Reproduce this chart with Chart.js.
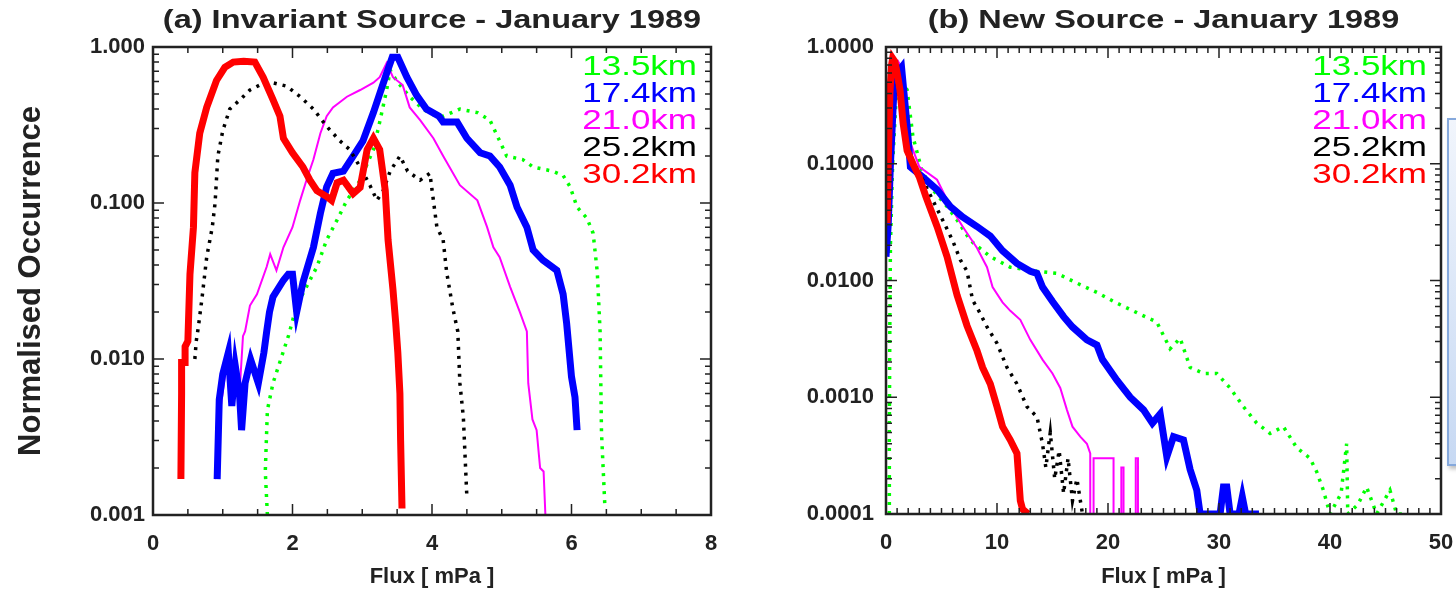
<!DOCTYPE html>
<html>
<head>
<meta charset="utf-8">
<script src="https://cdn.jsdelivr.net/npm/chart.js@4.4.1/dist/chart.umd.min.js"></script>
<style>
  body { margin: 0; background: #fff; width: 1456px; height: 600px; overflow: hidden; position: relative; }
  canvas { position: absolute; top: 0; }
  #chartA { left: 0; }
  #chartB { left: 728px; }
  .note { position: absolute; left: 1447px; top: 118px; width: 40px; height: 344px;
          border: 2px solid #86a9dc; background: linear-gradient(#f1f5fc, #c7d9f3);
          box-shadow: 2px 3px 4px rgba(0,0,0,0.25); }
</style>
</head>
<body>
<canvas id="chartA" width="728" height="600"></canvas>
<canvas id="chartB" width="728" height="600"></canvas>
<div class="note"></div>
<script>
// series names, in legend order
const heights = ['13.5km', '17.4km', '21.0km', '25.2km', '30.2km'];

// tick values / labels
const xTicksA = [0, 2, 4, 6, 8];
const xTicksB = [0, 10, 20, 30, 40, 50];
const yTicksA = [0.001, 0.01, 0.1, 1];
const yTickLabelsA = ['0.001', '0.010', '0.100', '1.000'];
const yTicksB = [0.0001, 0.001, 0.01, 0.1, 1];
const yTickLabelsB = ['0.0001', '0.0010', '0.0100', '0.1000', '1.0000'];

// (a) Invariant source: flux [mPa] and normalised occurrence per height
const fluxA135 = [1.64, 1.61, 1.64, 1.72, 1.83, 1.94, 2.06, 2.20, 2.35, 2.49, 2.64, 2.78, 2.97, 3.16, 3.25, 3.35, 3.40, 3.50, 3.68, 3.87, 4.00, 4.16, 4.40, 4.65, 4.83, 4.97, 5.07, 5.30, 5.45, 5.73, 5.88, 5.98, 6.08, 6.22, 6.31, 6.37, 6.41, 6.43, 6.48];
const occA135  = [0.001, 0.0019, 0.0047, 0.007, 0.0099, 0.014, 0.022, 0.029, 0.039, 0.058, 0.078, 0.104, 0.14, 0.22, 0.33, 0.53, 0.71, 0.6, 0.48, 0.4, 0.37, 0.36, 0.4, 0.38, 0.34, 0.25, 0.2, 0.19, 0.17, 0.16, 0.15, 0.127, 0.094, 0.08, 0.064, 0.036, 0.015, 0.0034, 0.0011];

const fluxA174 = [0.92, 0.95, 1.00, 1.08, 1.13, 1.18, 1.24, 1.27, 1.32, 1.40, 1.51, 1.59, 1.63, 1.67, 1.72, 1.87, 1.94, 2.00, 2.06, 2.15, 2.30, 2.40, 2.49, 2.58, 2.73, 2.87, 3.01, 3.16, 3.25, 3.35, 3.43, 3.51, 3.64, 3.78, 3.92, 4.10, 4.16, 4.36, 4.50, 4.69, 4.83, 4.97, 5.12, 5.22, 5.36, 5.45, 5.59, 5.79, 5.88, 5.93, 6.00, 6.05, 6.08];
const occA174  = [0.0017, 0.0055, 0.008, 0.011, 0.005, 0.009, 0.006, 0.0035, 0.007, 0.0099, 0.007, 0.011, 0.015, 0.02, 0.025, 0.032, 0.035, 0.035, 0.02, 0.031, 0.052, 0.086, 0.127, 0.155, 0.16, 0.2, 0.25, 0.38, 0.5, 0.68, 0.86, 0.86, 0.64, 0.49, 0.4, 0.36, 0.33, 0.33, 0.26, 0.21, 0.2, 0.17, 0.13, 0.094, 0.07, 0.05, 0.043, 0.037, 0.026, 0.017, 0.0077, 0.0057, 0.0035];

const fluxA210 = [0.89, 0.95, 0.97, 1.05, 1.10, 1.15, 1.20, 1.24, 1.29, 1.32, 1.39, 1.49, 1.63, 1.68, 1.77, 1.87, 2.00, 2.11, 2.20, 2.30, 2.40, 2.49, 2.58, 2.78, 2.97, 3.16, 3.25, 3.35, 3.44, 3.58, 3.68, 3.83, 4.02, 4.16, 4.40, 4.65, 4.79, 4.88, 4.97, 5.12, 5.26, 5.36, 5.38, 5.44, 5.50, 5.55, 5.60, 5.63];
const occA210  = [0.0017, 0.0029, 0.0049, 0.009, 0.011, 0.007, 0.009, 0.006, 0.014, 0.015, 0.022, 0.026, 0.039, 0.047, 0.037, 0.052, 0.07, 0.104, 0.14, 0.19, 0.28, 0.36, 0.41, 0.48, 0.53, 0.59, 0.64, 0.79, 0.64, 0.57, 0.41, 0.34, 0.26, 0.2, 0.13, 0.104, 0.07, 0.052, 0.045, 0.029, 0.02, 0.015, 0.007, 0.0041, 0.0035, 0.002, 0.0019, 0.0009];

const fluxA252 = [0.60, 0.62, 0.65, 0.70, 0.77, 0.85, 0.89, 0.93, 1.00, 1.10, 1.25, 1.39, 1.53, 1.72, 1.92, 2.11, 2.30, 2.49, 2.68, 2.82, 2.97, 3.11, 3.21, 3.30, 3.40, 3.54, 3.65, 3.83, 3.97, 4.02, 4.07, 4.16, 4.21, 4.30, 4.37, 4.40, 4.45, 4.50];
const occA252  = [0.01, 0.013, 0.016, 0.024, 0.045, 0.07, 0.10, 0.2, 0.29, 0.4, 0.46, 0.53, 0.57, 0.59, 0.56, 0.48, 0.4, 0.31, 0.25, 0.22, 0.17, 0.13, 0.104, 0.12, 0.16, 0.2, 0.16, 0.14, 0.155, 0.104, 0.07, 0.058, 0.036, 0.021, 0.015, 0.007, 0.0042, 0.0013];

const fluxA302 = [0.40, 0.41, 0.41, 0.46, 0.46, 0.50, 0.53, 0.58, 0.60, 0.67, 0.77, 0.91, 1.03, 1.15, 1.30, 1.46, 1.58, 1.72, 1.82, 1.87, 2.00, 2.15, 2.25, 2.35, 2.49, 2.56, 2.64, 2.73, 2.87, 2.97, 3.07, 3.16, 3.25, 3.33, 3.37, 3.44, 3.48, 3.51, 3.54, 3.55, 3.57];
const occA302  = [0.0017, 0.006, 0.0095, 0.0095, 0.012, 0.013, 0.035, 0.07, 0.156, 0.28, 0.41, 0.61, 0.74, 0.80, 0.81, 0.80, 0.64, 0.46, 0.36, 0.26, 0.21, 0.17, 0.14, 0.12, 0.11, 0.104, 0.135, 0.14, 0.115, 0.126, 0.22, 0.26, 0.22, 0.12, 0.058, 0.028, 0.017, 0.011, 0.006, 0.003, 0.0011];

// (b) New source
const fluxB135 = [0.3, 0.3, 0.35, 0.4, 0.6, 0.9, 1.2, 1.5, 1.9, 2.43, 3.2, 4.0, 5.5, 6.4, 7.6, 9.4, 11.2, 13.6, 15.4, 17.2, 19.0, 20.8, 22.6, 24.4, 25.6, 26.5, 27.4, 28.6, 29.8, 31.0, 32.2, 33.4, 34.6, 35.8, 37.0, 38.2, 38.8, 39.4, 40.0, 41.0, 41.5, 41.6, 42.5, 43.3, 44.2, 45.4, 46.0, 46.6];
const occB135  = [0.0001, 0.0005, 0.005, 0.02, 0.1, 0.35, 0.55, 0.5, 0.43, 0.17, 0.09, 0.063, 0.043, 0.033, 0.022, 0.016, 0.013, 0.012, 0.0115, 0.0095, 0.0079, 0.0064, 0.0053, 0.0044, 0.0026, 0.0032, 0.0018, 0.0016, 0.0016, 0.0012, 0.00083, 0.0006, 0.00049, 0.00056, 0.00037, 0.0003, 0.00023, 0.00016, 0.0001, 0.00015, 0.0004, 0.0001, 0.00012, 0.00017, 0.0001, 0.00016, 0.0001, 0.0001];

const fluxB174 = [0.0, 0.2, 0.4, 0.7, 1.0, 1.4, 1.9, 2.2, 3.3, 4.6, 5.8, 6.9, 8.2, 9.4, 10.5, 11.8, 13.0, 13.6, 14.1, 15.0, 16.0, 16.8, 18.1, 19.0, 19.5, 20.8, 22.0, 23.2, 24.0, 24.7, 25.3, 25.9, 26.8, 27.4, 28.0, 28.3, 30.1, 30.4, 30.7, 31.0, 31.8, 32.1, 32.4, 33.4, 33.6];
const occB174  = [0.016, 0.03, 0.1, 0.4, 0.6, 0.67, 0.21, 0.094, 0.077, 0.06, 0.043, 0.035, 0.029, 0.024, 0.018, 0.014, 0.012, 0.0115, 0.0088, 0.0066, 0.0049, 0.004, 0.0031, 0.0028, 0.0021, 0.0014, 0.001, 0.00078, 0.0006, 0.00072, 0.00031, 0.00046, 0.00043, 0.00024, 0.00016, 0.0001, 0.0001, 0.00017, 0.00017, 0.0001, 0.0001, 0.00014, 0.0001, 0.0001, 0.0001];

const fluxB210 = [0.1, 0.4, 0.8, 1.1, 1.4, 1.9, 3.0, 4.6, 5.8, 6.9, 8.2, 9.1, 9.6, 10.5, 11.2, 12.1, 13.0, 14.1, 15.0, 15.7, 16.3, 16.8, 17.5, 18.1, 18.4, 18.4, 18.7, 18.7, 20.5, 20.5, 21.2, 21.2, 21.4, 21.4, 22.5, 22.5, 22.7, 22.7];
const occB210  = [0.02, 0.2, 0.6, 0.75, 0.67, 0.18, 0.094, 0.073, 0.043, 0.029, 0.019, 0.013, 0.0088, 0.0065, 0.0055, 0.0046, 0.0031, 0.0021, 0.0016, 0.0012, 0.00078, 0.00056, 0.00046, 0.0004, 0.00033, 0.00005, 0.00005, 0.0003, 0.0003, 0.00005, 0.00005, 0.00025, 0.00025, 0.00005, 0.00005, 0.0003, 0.0003, 0.00005];

const fluxB252 = [0.2, 0.4, 0.5, 0.7, 1.0, 1.3, 1.8, 2.4, 3.3, 4.2, 5.1, 6.0, 6.7, 7.3, 7.8, 8.5, 9.1, 10.0, 10.9, 11.8, 12.7, 13.6, 14.1, 14.4, 14.8, 15.2, 15.6, 16.0, 16.4, 16.8, 17.2, 17.7];
const occB252  = [0.05, 0.3, 0.6, 0.7, 0.5, 0.3, 0.15, 0.1, 0.073, 0.049, 0.033, 0.022, 0.015, 0.012, 0.0068, 0.0052, 0.004, 0.0029, 0.0018, 0.0013, 0.00083, 0.00068, 0.0004, 0.00025, 0.0005, 0.0002, 0.00035, 0.00015, 0.0003, 0.00013, 0.0002, 0.0001];

const fluxB302 = [0.1, 0.2, 0.35, 0.5, 0.6, 0.8, 1.0, 1.26, 1.55, 1.9, 2.43, 3.0, 3.6, 4.6, 5.5, 6.4, 7.3, 8.2, 8.7, 9.4, 10.0, 10.5, 11.2, 11.8, 12.1, 12.3, 12.8];
const occB302  = [0.031, 0.1, 0.4, 0.7, 0.8, 0.75, 0.6, 0.43, 0.22, 0.13, 0.1, 0.077, 0.052, 0.029, 0.016, 0.0075, 0.0041, 0.0025, 0.0018, 0.0013, 0.00083, 0.00056, 0.00043, 0.00033, 0.00013, 0.00011, 0.0001];

// line styles per height
const lineColors = ['#00ff00', '#0000ff', '#ff00ff', '#000000', '#ff0000'];
const lineWidths = [3.5, 7, 2, 3.5, 7];
const lineDashes = [[3, 6], [], [], [3, 6], []];
const drawOrder = [4, 2, 3, 1, 0];

const FONT = '"Liberation Sans", Arial, Helvetica, sans-serif';

function makeSets(fluxes, occs) {
    return heights.map((h, i) => ({
        label: h,
        data: fluxes[i].map((x, j) => ({ x: x, y: occs[i][j] })),
        borderColor: lineColors[i],
        borderWidth: lineWidths[i],
        borderDash: lineDashes[i],
        showLine: true,
        pointRadius: 0,
        fill: false,
        order: drawOrder[i],
        clip: 1
    }));
}

// text drawn a bit wider than the font, like the (stretched) original figure
function wideText(ctx, text, x, y, font, color, align, sx) {
    ctx.save();
    ctx.font = font;
    ctx.fillStyle = color;
    ctx.textAlign = align;
    ctx.textBaseline = 'middle';
    ctx.translate(x, y);
    ctx.scale(sx, 1);
    ctx.fillText(text, 0, 0);
    ctx.restore();
}

// box round the plot, inward ticks like IDL, title and the coloured height labels
const framePlugin = {
    id: 'frame',
    afterDatasetsDraw(chart, args, opts) {
        const ctx = chart.ctx;
        const a = chart.chartArea;
        const xs = chart.scales.x, ys = chart.scales.y;
        ctx.save();
        ctx.strokeStyle = '#222';
        ctx.lineWidth = 1.5;
        ctx.beginPath();
        for (let v = xs.min; v <= xs.max + 1e-9; v += opts.xMinor) {
            const px = xs.getPixelForValue(v);
            const r = v / opts.xMajor;
            const len = Math.abs(r - Math.round(r)) < 1e-6 ? 11 : 6;
            ctx.moveTo(px, a.bottom); ctx.lineTo(px, a.bottom - len);
            ctx.moveTo(px, a.top); ctx.lineTo(px, a.top + len);
        }
        for (let d = Math.round(Math.log10(ys.min)); d <= 0; d++) {
            for (let m = 1; m <= 9; m++) {
                const v = m * Math.pow(10, d);
                if (v > ys.max * 1.0001) break;
                const py = ys.getPixelForValue(v);
                const len = m === 1 ? 11 : 6;
                ctx.moveTo(a.left, py); ctx.lineTo(a.left + len, py);
                ctx.moveTo(a.right, py); ctx.lineTo(a.right - len, py);
            }
        }
        ctx.stroke();
        ctx.lineWidth = 2.5;
        ctx.strokeRect(a.left, a.top, a.right - a.left, a.bottom - a.top);
        ctx.restore();

        wideText(ctx, opts.title, (a.left + a.right) / 2, 21,
            'bold 25px ' + FONT, '#222', 'center', 1.3);
        heights.forEach((h, i) => {
            wideText(ctx, h, a.right - 14, a.top + 20 + 27 * i,
                '28px ' + FONT, lineColors[i], 'right', 1.25);
        });
    }
};

function makeChart(id, cfg) {
    return new Chart(document.getElementById(id), {
        type: 'scatter',
        data: { datasets: makeSets(cfg.fluxes, cfg.occs) },
        options: {
            responsive: false,
            animation: false,
            devicePixelRatio: 1,
            layout: { padding: { top: 47, right: cfg.padRight, left: 0, bottom: 0 } },
            plugins: {
                legend: { display: false },
                tooltip: { enabled: false },
                title: { display: false },
                frame: { xMinor: cfg.xMinor, xMajor: cfg.xMajor, title: cfg.title }
            },
            scales: {
                x: {
                    type: 'linear',
                    min: cfg.xTicks[0],
                    max: cfg.xTicks[cfg.xTicks.length - 1],
                    afterBuildTicks: s => { s.ticks = cfg.xTicks.map(v => ({ value: v })); },
                    afterFit: s => { s.height = cfg.xAxisHeight; s.paddingLeft = 0; s.paddingRight = 0; },
                    grid: { display: false, drawTicks: false },
                    border: { display: false },
                    ticks: {
                        color: '#222', padding: 16, maxRotation: 0,
                        font: { family: FONT, size: 22, weight: 'bold' }
                    },
                    title: {
                        display: true, text: 'Flux [ mPa ]', color: '#222',
                        font: { family: FONT, size: 22, weight: 'bold' },
                        padding: { top: 0, bottom: 10 }
                    }
                },
                y: {
                    type: 'logarithmic',
                    min: cfg.yTicks[0],
                    max: cfg.yTicks[cfg.yTicks.length - 1],
                    afterBuildTicks: s => { s.ticks = cfg.yTicks.map(v => ({ value: v })); },
                    afterFit: s => { s.width = cfg.yAxisWidth; s.paddingTop = 0; s.paddingBottom = 0; },
                    grid: { display: false, drawTicks: false },
                    border: { display: false },
                    ticks: {
                        color: '#222', padding: cfg.yPad,
                        font: { family: FONT, size: 22, weight: 'bold' },
                        callback: (v) => cfg.yLabels[cfg.yTicks.indexOf(v)]
                    },
                    title: {
                        display: cfg.yTitle !== '',
                        text: cfg.yTitle, color: '#222',
                        font: { family: FONT, size: 31, weight: 'bold' },
                        padding: { top: 13, bottom: 0 }
                    }
                }
            }
        },
        plugins: [framePlugin]
    });
}

makeChart('chartA', {
    title: '(a) Invariant Source - January 1989',
    fluxes: [fluxA135, fluxA174, fluxA210, fluxA252, fluxA302],
    occs: [occA135, occA174, occA210, occA252, occA302],
    xTicks: xTicksA, xMinor: 0.5, xMajor: 2,
    yTicks: yTicksA, yLabels: yTickLabelsA,
    yTitle: 'Normalised Occurrence',
    yAxisWidth: 153, xAxisHeight: 85, padRight: 17, yPad: 8
});

makeChart('chartB', {
    title: '(b) New Source - January 1989',
    fluxes: [fluxB135, fluxB174, fluxB210, fluxB252, fluxB302],
    occs: [occB135, occB174, occB210, occB252, occB302],
    xTicks: xTicksB, xMinor: 1, xMajor: 10,
    yTicks: yTicksB, yLabels: yTickLabelsB,
    yTitle: '',
    yAxisWidth: 158, xAxisHeight: 86, padRight: 15, yPad: 12
});
</script>
</body>
</html>
